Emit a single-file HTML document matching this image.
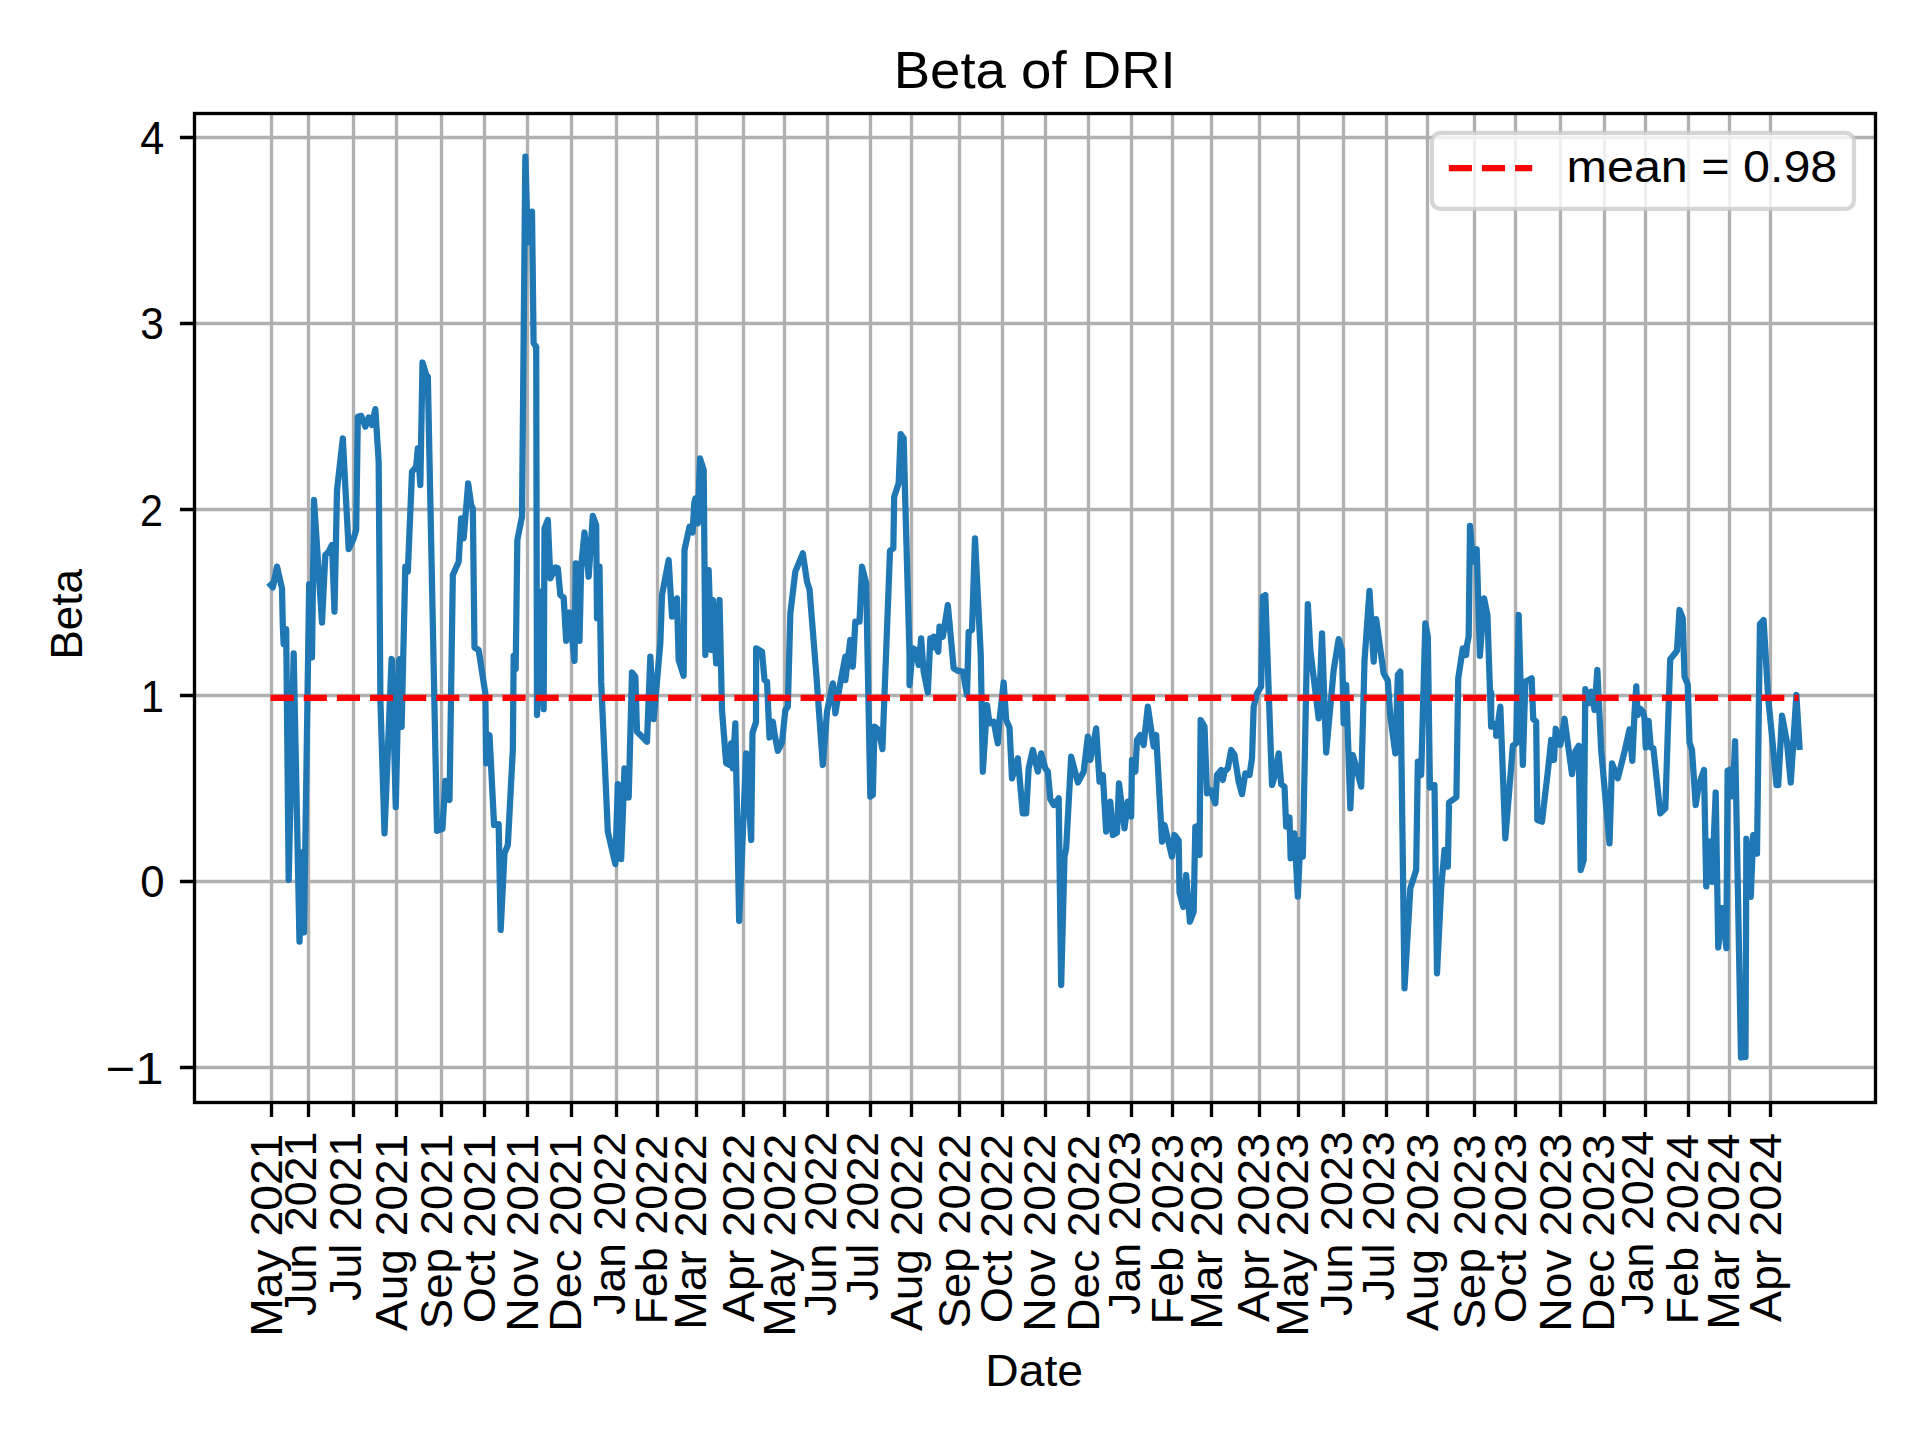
<!DOCTYPE html><html><head><meta charset="utf-8"><title>Beta of DRI</title><style>html,body{margin:0;padding:0;background:#fff;overflow:hidden}svg{display:block}text{font-family:"Liberation Sans",sans-serif;fill:#000}</style></head><body>
<svg width="1920" height="1440" viewBox="0 0 1920 1440">
<rect x="0" y="0" width="1920" height="1440" fill="#fff"/>
<path d="M271.5 113.5V1102.5M308.5 113.5V1102.5M353.5 113.5V1102.5M396.5 113.5V1102.5M441.5 113.5V1102.5M484.5 113.5V1102.5M527.5 113.5V1102.5M571.5 113.5V1102.5M616.5 113.5V1102.5M657.5 113.5V1102.5M696.5 113.5V1102.5M743.5 113.5V1102.5M784.5 113.5V1102.5M827.5 113.5V1102.5M870.5 113.5V1102.5M911.5 113.5V1102.5M959.5 113.5V1102.5M1002.5 113.5V1102.5M1045.5 113.5V1102.5M1088.5 113.5V1102.5M1131.5 113.5V1102.5M1172.5 113.5V1102.5M1211.5 113.5V1102.5M1259.5 113.5V1102.5M1298.5 113.5V1102.5M1343.5 113.5V1102.5M1386.5 113.5V1102.5M1427.5 113.5V1102.5M1474.5 113.5V1102.5M1515.5 113.5V1102.5M1560.5 113.5V1102.5M1604.5 113.5V1102.5M1645.5 113.5V1102.5M1688.5 113.5V1102.5M1729.5 113.5V1102.5M1770.5 113.5V1102.5M194.5 137.5H1875.5M194.5 323.5H1875.5M194.5 509.5H1875.5M194.5 695.5H1875.5M194.5 881.5H1875.5M194.5 1067.5H1875.5" stroke="#b0b0b0" stroke-width="3.33" fill="none"/>
<path d="M270.67 585 L272.83 587.5 L277 566.67 L282 588.33 L282.83 626.67 L283.67 644.17 L286.17 629.17 L288.67 880 L293.67 653.33 L299.5 941.67 L302 852.5 L304 932.5 L309.17 584.17 L312 657.5 L314 500 L322 622.5 L325.33 555 L328.67 551.67 L332 545 L334.5 611.67 L337 490 L342.83 438.33 L345.33 486.67 L348.67 549.17 L353.67 538.33 L356.17 530 L357.83 416.67 L361.17 415.83 L365.33 426.67 L368.67 417.5 L372 425 L375.33 409.17 L378.67 461.67 L380.4 700 L384.5 833.33 L391.6 659 L392 660 L395.75 807.08 L399.1 660 L399.5 659.17 L401.6 727 L405.33 566.67 L407.83 571.67 L412 471.67 L416.17 466.67 L417.83 448.33 L420.33 485 L422.5 362.5 L427 377.5 L427.83 376.67 L437 830.83 L442.42 828.75 L445.33 780.83 L449.5 800 L452.83 575 L458.67 561.67 L461.17 518.33 L463.67 538.33 L468.17 483.33 L471.17 505 L472.83 508.33 L474.5 647.5 L478.67 650 L482 671.67 L485.33 693.33 L486.17 763.33 L489.5 735 L494.08 825 L498.67 824.17 L500.67 930 L504.5 853.33 L507.83 845 L512.83 750 L513.67 655.83 L515.67 669.17 L517.33 540 L522 516.67 L525.33 156.67 L527.83 242.5 L532 211.67 L533.6 343 L536.2 347 L537 715 L540.67 591.67 L543.67 709.17 L544.5 528.33 L547.83 520 L550.33 578.33 L555.33 567.5 L557.83 568.33 L560.33 595 L563.67 597.5 L566.17 640.83 L569.5 612.5 L574.5 660.83 L575.75 563.33 L578.67 565 L579.5 640.83 L581.17 566.67 L584.5 532.5 L588.67 576.67 L592.83 515.83 L596.17 525 L597 618.33 L599.5 566.67 L601.17 681.67 L607.83 831.67 L615.33 864.17 L617.83 784.17 L621.17 859.17 L624.5 768.33 L628.67 797.5 L632 672.5 L635.33 676.67 L637 731.67 L641.17 735.83 L647 741.67 L650.33 656.67 L653.67 719.17 L660.33 643.33 L662 595 L668.67 560 L672 616.67 L677 598.33 L678.67 660 L683.67 675.83 L684.5 550 L689.5 526.67 L692.6 532.5 L694.3 503 L695.33 498.33 L697.83 523.33 L700 458.33 L703.67 470 L705.33 655 L708.67 570 L711.17 650 L712.83 600 L716.17 663.33 L719.5 600 L722 710 L726.17 763.33 L729.5 765 L731.17 743.33 L732.83 768.33 L735.33 723.33 L739.17 920.83 L746.17 753.33 L751.17 840 L752.5 733 L756 722 L756.17 648.33 L762 651.67 L764.5 680 L767 681.67 L769.5 737.5 L772.83 721.67 L774.5 733.33 L777.83 750.83 L782 742.5 L785.33 710 L787.83 706.67 L790.33 613.33 L795.33 571.67 L802.83 553.33 L807 581.67 L809.5 589.17 L816.17 672.5 L822.83 765 L827 711.67 L832.83 683.33 L835.33 713.33 L839.5 687.5 L845.33 656.67 L845.33 680 L850.33 640 L852.83 666.67 L855.33 621.67 L859.5 621.67 L862 566.67 L866.17 583.33 L870.33 796.67 L872.83 795 L874.5 726.67 L878.67 730 L882.42 749.17 L890 550.83 L893.33 548.33 L894.17 496.67 L898.67 483.33 L900.67 434.17 L903.67 438.33 L905.33 503.33 L909.5 653.33 L909.5 685 L912.83 648.33 L915.92 650 L918.67 665 L921.17 638.33 L922 650 L923.67 671.67 L927.83 692.5 L930.33 638.33 L931.17 648.33 L933.67 636.67 L935.33 645 L938.25 651.67 L939.5 626.67 L942.83 636.67 L947.83 605 L953.67 668.33 L957.83 670.83 L962.83 671.67 L967 695 L968.67 631.67 L972 630 L975 538.33 L980.75 655 L982.83 771.67 L987 705 L989.5 723.33 L993.67 721.67 L997.83 743.33 L999.5 720 L1003.67 682.5 L1006.17 720 L1009.5 727.5 L1012 778.33 L1017.83 758.33 L1022.83 813.33 L1026.17 813.33 L1028.67 768.33 L1032.83 750 L1037.83 771.67 L1041.17 753.33 L1045.33 768.33 L1047.83 771.67 L1050.33 799.17 L1053.67 805 L1058.67 798.33 L1061.17 985 L1064.5 856.67 L1066.17 848.33 L1071.17 756.67 L1077.83 782.5 L1083.67 771.67 L1087.83 736.67 L1090.33 760 L1096.17 728.33 L1099.5 781.67 L1102.83 775 L1106.17 831.67 L1110.33 801.67 L1112.83 835 L1117 832.5 L1119 783.33 L1124.5 828.33 L1127.83 801.67 L1131.17 816.67 L1132 760 L1135.33 771.67 L1137 740 L1140.33 735 L1143.67 745 L1147.83 706.67 L1153.67 746.67 L1156.17 735 L1162 841.67 L1164.5 825 L1172 856.67 L1174.5 835 L1178.67 840.42 L1179.5 892.5 L1183.25 907.08 L1186.17 875 L1189.92 921.67 L1193.67 911.67 L1195.33 826.67 L1198.67 825.83 L1199.5 855 L1200.67 720 L1204.5 726.67 L1207 793.33 L1210.33 790 L1215.33 803.33 L1217 775 L1221.17 770 L1222.83 780 L1224.5 771.67 L1227.83 768.33 L1231.17 750 L1234.5 755 L1238.67 781.67 L1242 794.17 L1245.33 773.33 L1249.5 775 L1252 758.33 L1253.67 706.67 L1257 693.33 L1261.17 686.67 L1262.83 596.67 L1265.33 595 L1272 785 L1274.5 776.67 L1278.67 753.33 L1281.17 784.17 L1284.5 786.67 L1286.17 826.67 L1289.5 817.5 L1290.67 858.33 L1294.5 833.33 L1297.83 896.67 L1300.33 840 L1302.83 856.67 L1307.83 604.17 L1310.33 650 L1318.67 718.33 L1322 633.33 L1326.17 752.5 L1333.67 670 L1338.67 639.17 L1342 650 L1343.67 723.33 L1346.17 685 L1350.33 808.33 L1352.83 755 L1356.17 766.67 L1361.17 786.67 L1364.5 660.83 L1369.5 590.83 L1373.67 661.67 L1376.17 619.17 L1379.5 643.33 L1383.67 673.33 L1387.83 680.83 L1390.33 716.67 L1395.33 753.33 L1397.83 675 L1400.33 671.67 L1404.5 988.33 L1410.33 888.33 L1416.17 870 L1417.83 761.67 L1421.17 775 L1425.33 623.33 L1427.83 636.67 L1429.92 787.5 L1434.5 785 L1437 973.33 L1441.17 888.33 L1444.5 850 L1447.83 866.67 L1449.08 802.5 L1456.38 797.29 L1458.25 678.33 L1462.83 648.33 L1466.17 655 L1467 645 L1468.67 636.67 L1470 525.83 L1472.83 561.67 L1476.67 549.17 L1479.92 655.83 L1484.08 598.33 L1487.42 615 L1491.17 726.67 L1491.17 692.5 L1491.17 725 L1492.83 723.33 L1496.17 728.33 L1496.17 735.83 L1500.33 706.67 L1505.33 838.33 L1511.17 766.67 L1512.83 745.83 L1516.17 743.33 L1518.67 615 L1522.83 765 L1525.33 681.67 L1528.67 680 L1531.67 678.33 L1533.25 719.17 L1536.17 721.67 L1537.33 820 L1542 821.67 L1547.83 771.67 L1551.17 740 L1554 760 L1555.75 728.75 L1560.33 745 L1564.5 718.75 L1572 774.17 L1575.33 751.67 L1578.67 745.83 L1580.67 870 L1583.67 860 L1585.33 689.17 L1588.67 703.33 L1591.17 691.67 L1594.5 710 L1597.33 670 L1601.17 750 L1609.5 843.33 L1612 763.33 L1617.83 778.33 L1624.92 750 L1629.5 729.38 L1632.31 760.83 L1634.5 713.33 L1636.27 686.46 L1637.62 715 L1640.12 708.54 L1643.35 712.5 L1644.5 718.33 L1645.75 747.5 L1648.56 720.83 L1650.75 747.5 L1653.35 748.23 L1660.33 813.33 L1665.33 808.33 L1670.23 659.17 L1674.6 653.85 L1677 650.62 L1679.5 610 L1682.73 618.12 L1684.5 676.46 L1687.73 684.38 L1689.5 742.5 L1692 750 L1695.67 805 L1698.67 785.83 L1704 770 L1706.27 886.46 L1709.19 841.46 L1712 881.77 L1715.71 792.5 L1718.25 947.5 L1722.31 908.12 L1726.38 948.12 L1727.62 770.62 L1730.75 769.38 L1732.62 796.25 L1735.12 741.25 L1741 1057.5 L1745.5 1056.88 L1746.38 838.75 L1750.75 896.88 L1753.25 835 L1756.38 833.75 L1757 853.75 L1759.92 624.17 L1763.58 620 L1768.25 698.75 L1772 736.25 L1776.5 785 L1778.25 785 L1782 715.62 L1787 742.5 L1790.75 782.5 L1796.38 695 L1799.5 746.88" stroke="#1f77b4" stroke-width="6.25" fill="none" stroke-linejoin="round" stroke-linecap="square"/>
<path d="M270.61 697.8H1798.6" stroke="#ff0000" stroke-width="6.25" stroke-dasharray="23.125 10" fill="none"/>
<rect x="194.5" y="113.5" width="1681" height="989" fill="none" stroke="#000" stroke-width="3.33" stroke-linejoin="miter"/>
<path d="M271.5 1102.5V1117.08M308.5 1102.5V1117.08M353.5 1102.5V1117.08M396.5 1102.5V1117.08M441.5 1102.5V1117.08M484.5 1102.5V1117.08M527.5 1102.5V1117.08M571.5 1102.5V1117.08M616.5 1102.5V1117.08M657.5 1102.5V1117.08M696.5 1102.5V1117.08M743.5 1102.5V1117.08M784.5 1102.5V1117.08M827.5 1102.5V1117.08M870.5 1102.5V1117.08M911.5 1102.5V1117.08M959.5 1102.5V1117.08M1002.5 1102.5V1117.08M1045.5 1102.5V1117.08M1088.5 1102.5V1117.08M1131.5 1102.5V1117.08M1172.5 1102.5V1117.08M1211.5 1102.5V1117.08M1259.5 1102.5V1117.08M1298.5 1102.5V1117.08M1343.5 1102.5V1117.08M1386.5 1102.5V1117.08M1427.5 1102.5V1117.08M1474.5 1102.5V1117.08M1515.5 1102.5V1117.08M1560.5 1102.5V1117.08M1604.5 1102.5V1117.08M1645.5 1102.5V1117.08M1688.5 1102.5V1117.08M1729.5 1102.5V1117.08M1770.5 1102.5V1117.08M179.92 137.5H194.5M179.92 323.5H194.5M179.92 509.5H194.5M179.92 695.5H194.5M179.92 881.5H194.5M179.92 1067.5H194.5" stroke="#000" stroke-width="3.33" fill="none"/>
<text transform="translate(281.56 1336.7) rotate(-90) scale(0.4624 0.4366)" font-size="100">May 2021</text>
<text transform="translate(315.56 1315.9) rotate(-90) scale(0.4480 0.4366)" font-size="100">Jun 2021</text>
<text transform="translate(360.87 1300.89) rotate(-90) scale(0.4474 0.4366)" font-size="100">Jul 2021</text>
<text transform="translate(406.56 1331) rotate(-90) scale(0.4610 0.4366)" font-size="100">Aug 2021</text>
<text transform="translate(451.56 1329.28) rotate(-90) scale(0.4569 0.4366)" font-size="100">Sep 2021</text>
<text transform="translate(494.56 1323.34) rotate(-90) scale(0.4672 0.4366)" font-size="100">Oct 2021</text>
<text transform="translate(537.56 1331.7) rotate(-90) scale(0.4627 0.4366)" font-size="100">Nov 2021</text>
<text transform="translate(580.56 1331.7) rotate(-90) scale(0.4627 0.4366)" font-size="100">Dec 2021</text>
<text transform="translate(624.56 1314.89) rotate(-90) scale(0.4455 0.4366)" font-size="100">Jan 2022</text>
<text transform="translate(666.87 1324.59) rotate(-90) scale(0.4488 0.4366)" font-size="100">Feb 2022</text>
<text transform="translate(705.56 1329.7) rotate(-90) scale(0.4621 0.4366)" font-size="100">Mar 2022</text>
<text transform="translate(753.56 1322) rotate(-90) scale(0.4638 0.4366)" font-size="100">Apr 2022</text>
<text transform="translate(794.56 1336.7) rotate(-90) scale(0.4624 0.4366)" font-size="100">May 2022</text>
<text transform="translate(835.56 1315.9) rotate(-90) scale(0.4480 0.4366)" font-size="100">Jun 2022</text>
<text transform="translate(877.87 1300.89) rotate(-90) scale(0.4474 0.4366)" font-size="100">Jul 2022</text>
<text transform="translate(921.56 1331) rotate(-90) scale(0.4610 0.4366)" font-size="100">Aug 2022</text>
<text transform="translate(969.56 1328.27) rotate(-90) scale(0.4545 0.4366)" font-size="100">Sep 2022</text>
<text transform="translate(1011.56 1323.34) rotate(-90) scale(0.4672 0.4366)" font-size="100">Oct 2022</text>
<text transform="translate(1054.56 1331.7) rotate(-90) scale(0.4627 0.4366)" font-size="100">Nov 2022</text>
<text transform="translate(1098.56 1331.68) rotate(-90) scale(0.4602 0.4366)" font-size="100">Dec 2022</text>
<text transform="translate(1139.56 1314.89) rotate(-90) scale(0.4469 0.4366)" font-size="100">Jan 2023</text>
<text transform="translate(1182.87 1324.61) rotate(-90) scale(0.4512 0.4366)" font-size="100">Feb 2023</text>
<text transform="translate(1221.56 1329.71) rotate(-90) scale(0.4634 0.4366)" font-size="100">Mar 2023</text>
<text transform="translate(1268.56 1322) rotate(-90) scale(0.4663 0.4366)" font-size="100">Apr 2023</text>
<text transform="translate(1307.56 1336.71) rotate(-90) scale(0.4637 0.4366)" font-size="100">May 2023</text>
<text transform="translate(1351.56 1315.9) rotate(-90) scale(0.4494 0.4366)" font-size="100">Jun 2023</text>
<text transform="translate(1393.87 1300.9) rotate(-90) scale(0.4489 0.4366)" font-size="100">Jul 2023</text>
<text transform="translate(1437.56 1331) rotate(-90) scale(0.4623 0.4366)" font-size="100">Aug 2023</text>
<text transform="translate(1484.56 1329.28) rotate(-90) scale(0.4558 0.4366)" font-size="100">Sep 2023</text>
<text transform="translate(1525.56 1323.35) rotate(-90) scale(0.4697 0.4366)" font-size="100">Oct 2023</text>
<text transform="translate(1570.56 1331.71) rotate(-90) scale(0.4639 0.4366)" font-size="100">Nov 2023</text>
<text transform="translate(1613.56 1331.69) rotate(-90) scale(0.4615 0.4366)" font-size="100">Dec 2023</text>
<text transform="translate(1652.56 1314.9) rotate(-90) scale(0.4483 0.4366)" font-size="100">Jan 2024</text>
<text transform="translate(1697.87 1324.61) rotate(-90) scale(0.4515 0.4366)" font-size="100">Feb 2024</text>
<text transform="translate(1738.56 1329.72) rotate(-90) scale(0.4647 0.4366)" font-size="100">Mar 2024</text>
<text transform="translate(1780.56 1322) rotate(-90) scale(0.4665 0.4366)" font-size="100">Apr 2024</text>
<text transform="translate(140.14 154.46) scale(0.4314 0.4559)" font-size="100">4</text>
<text transform="translate(140.3 338.56) scale(0.4255 0.4366)" font-size="100">3</text>
<text transform="translate(139.93 526) scale(0.4130 0.4429)" font-size="100">2</text>
<text transform="translate(140.65 712) scale(0.4186 0.4493)" font-size="100">1</text>
<text transform="translate(140.25 896.56) scale(0.4375 0.4366)" font-size="100">0</text>
<text transform="translate(105.45 1084) scale(0.5096 0.4493)" font-size="100">−1</text>
<text transform="translate(893.63 88.29) scale(0.5460 0.5135)" font-size="100">Beta of DRI</text>
<text transform="translate(985.3 1385.56) scale(0.4623 0.4429)" font-size="100">Date</text>
<text transform="translate(81.56 659.52) rotate(-90) scale(0.4394 0.4429)" font-size="100">Beta</text>
<rect x="1431.95" y="132.95" width="422.05" height="76" rx="8.33" ry="8.33" fill="#fff" fill-opacity="0.8" stroke="#cccccc" stroke-opacity="0.8" stroke-width="4.17"/>
<path d="M1448.83 168.05H1532.17" stroke="#ff0000" stroke-width="6.25" stroke-dasharray="23.125 10" fill="none"/>
<text transform="translate(1566.61 181.56) scale(0.4845 0.4366)" font-size="100">mean = 0.98</text>
</svg></body></html>
